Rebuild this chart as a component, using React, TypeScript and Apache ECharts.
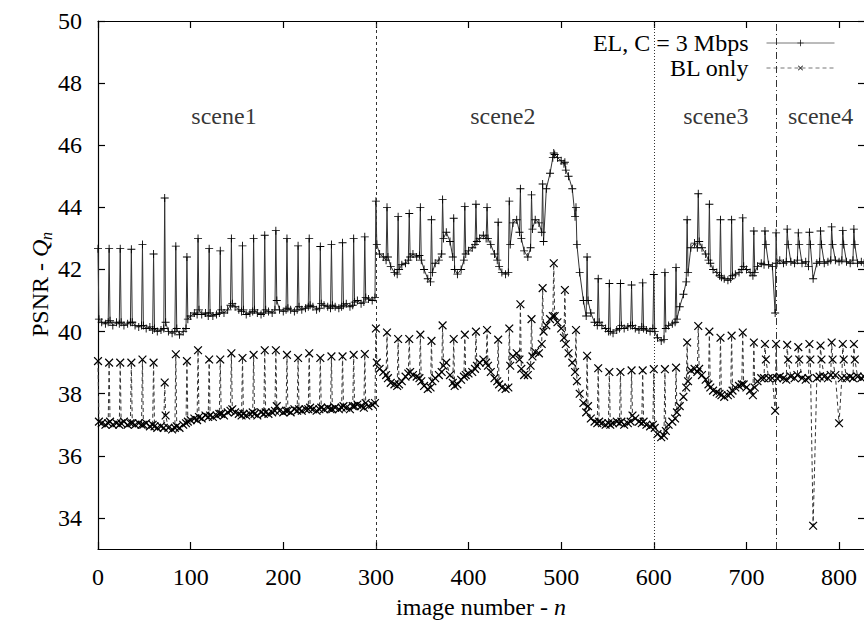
import React, { useEffect, useRef } from "react";
import * as echarts from "echarts";

// ---- data ----
const GOP = 12; // an I-frame (spike) every 12 images
const BASE_OFFSETS = [1, 4, 8, 11]; // frames inside each GOP where the base level is sampled

const xTicks = [0, 100, 200, 300, 400, 500, 600, 700, 800];
const yTicks = [34, 36, 38, 40, 42, 44, 46, 48, 50];

const sceneNames = ["scene1", "scene2", "scene3", "scene4"];
const sceneCenters = [136, 437, 667, 780];
const sceneLabelLevel = 46.93;
const sceneCuts = [300, 600, 732];

// EL, C = 3 Mbps: value at the I-frames 0, 12, 24, ... 816
const elSpikes = [
  42.67, 42.67, 42.67, 42.65, 42.8, 42.5, 44.3, 42.75, 42.4, 43.0,
  42.67, 42.6, 43.0, 42.76, 43.0, 43.1, 43.25, 43.0, 42.76, 43.0,
  42.74, 42.8, 42.86, 43.0, 43.05, 44.2, 44.0, 43.7, 43.8, 44.0,
  43.6, 44.25, 43.65, 44.03, 44.1, 44.0, 43.52, 44.2, 44.6, 44.4,
  44.75, 45.75, 45.45, 44.0, 42.4, 41.7, 41.55, 41.55, 41.5, 41.57,
  41.84, 41.9, 42.06, 43.6, 44.44, 44.1, 43.6, 43.6, 43.66, 43.24,
  43.24, 43.18, 43.3, 43.18, 43.2, 43.24, 43.37, 43.25, 43.3,
];

// EL base level, 4 samples per GOP (frames 12k+1, +4, +8, +11)
const elBase = [
  40.4, 40.3, 40.25, 40.3, 40.35, 40.2, 40.3, 40.25, 40.3, 40.2, 40.25, 40.3,
  40.3, 40.2, 40.15, 40.2, 40.2, 40.1, 40.15, 40.05, 40.1, 40.0, 40.05, 40.1,
  40.3, 40.0, 39.95, 40.0, 40.1, 39.9, 40.0, 40.1, 40.4, 40.5, 40.6, 40.55,
  40.7, 40.55, 40.6, 40.5, 40.6, 40.5, 40.55, 40.6, 40.7, 40.6, 40.7, 40.85,
  40.9, 40.8, 40.7, 40.65, 40.7, 40.55, 40.6, 40.65, 40.7, 40.6, 40.55, 40.6,
  40.7, 40.65, 40.6, 40.7, 41.0, 40.7, 40.65, 40.7, 40.75, 40.7, 40.65, 40.7,
  40.8, 40.7, 40.75, 40.8, 40.85, 40.8, 40.7, 40.75, 40.9, 40.85, 40.8, 40.75,
  40.85, 40.8, 40.75, 40.8, 40.85, 40.9, 40.8, 40.85, 40.95, 41.0, 40.9, 40.95,
  41.1, 41.05, 41.0, 41.1, 42.8, 42.5, 42.4, 42.3, 42.4, 42.1, 41.9, 41.85,
  42.0, 42.15, 42.2, 42.3, 42.4, 42.5, 42.4, 42.45, 42.3, 42.0, 41.7, 41.6,
  41.9, 42.2, 42.3, 42.5, 43.0, 43.2, 42.9, 42.4, 42.0, 41.85, 42.0, 42.3,
  42.5, 42.6, 42.7, 42.8, 42.9, 43.0, 43.1, 43.0, 43.0, 42.8, 42.5, 42.3,
  42.1, 41.9, 41.85, 41.9, 42.8, 43.5, 43.6, 43.2, 43.0, 42.6, 42.4, 42.7,
  43.3, 43.6, 43.5, 43.2, 42.9, 44.6, 45.1, 45.6, 45.7, 45.6, 45.5, 45.4,
  45.2, 45.0, 44.6, 43.7, 42.8, 41.9, 41.0, 40.5, 41.0, 40.6, 40.3, 40.2,
  40.3, 40.2, 40.1, 40.0, 40.0, 39.95, 40.05, 40.1, 40.2, 40.1, 40.15, 40.2,
  40.2, 40.1, 40.05, 40.15, 40.1, 40.05, 40.0, 40.1, 40.0, 39.8, 39.7, 39.75,
  40.1, 40.2, 40.25, 40.3, 40.4, 40.8, 41.2, 41.6, 41.9, 42.7, 42.85, 42.7,
  42.9, 42.7, 42.5, 42.3, 42.2, 42.0, 41.9, 41.8, 41.75, 41.7, 41.65, 41.7,
  41.8, 41.85, 41.9, 42.0, 42.1, 42.0, 41.9, 41.8, 41.9, 42.1, 42.2, 42.15,
  42.8, 42.15, 42.1, 40.6, 42.2, 42.3, 42.2, 42.25, 42.8, 42.25, 42.2, 42.3,
  42.8, 42.2, 42.25, 42.1, 42.8, 41.7, 42.2, 42.25, 42.8, 42.2, 42.25, 42.3,
  42.8, 42.3, 42.25, 42.3, 42.8, 42.25, 42.2, 42.3, 42.8, 42.2, 42.25, 42.2,
];

// BL only: value at the I-frames 0, 12, 24, ... 816
const blSpikes = [
  39.05, 39.0, 39.0, 39.0, 39.1, 39.0, 38.36, 39.27, 39.05, 39.4,
  39.1, 39.1, 39.3, 39.15, 39.25, 39.4, 39.4, 39.25, 39.15, 39.3,
  39.15, 39.2, 39.2, 39.25, 39.28, 40.1, 39.97, 39.76, 39.76, 39.9,
  39.7, 40.2, 39.76, 39.9, 40.0, 40.05, 39.74, 40.1, 40.88, 40.4,
  41.4, 42.2, 41.34, 40.05, 39.22, 38.82, 38.7, 38.7, 38.75, 38.75,
  38.79, 38.79, 38.84, 39.65, 40.18, 40.0, 39.8, 39.87, 39.97, 39.65,
  39.6, 39.6, 39.57, 39.5, 39.6, 39.55, 39.65, 39.6, 39.6,
];

// BL base level, 4 samples per GOP (frames 12k+1, +4, +8, +11)
const blBase = [
  37.1, 37.05, 37.0, 37.05, 37.1, 37.0, 37.05, 37.0, 37.05, 37.1, 37.0, 37.05,
  37.05, 37.0, 37.05, 37.0, 37.0, 37.05, 36.95, 37.0, 36.95, 36.9, 36.95, 36.9,
  37.3, 36.9, 36.85, 36.9, 36.95, 36.9, 37.0, 37.05, 37.1, 37.15, 37.2, 37.15,
  37.25, 37.2, 37.3, 37.25, 37.3, 37.25, 37.3, 37.35, 37.35, 37.3, 37.4, 37.45,
  37.5, 37.4, 37.35, 37.3, 37.35, 37.3, 37.35, 37.4, 37.35, 37.3, 37.4, 37.35,
  37.4, 37.35, 37.4, 37.45, 37.6, 37.45, 37.4, 37.45, 37.45, 37.4, 37.5, 37.45,
  37.5, 37.45, 37.5, 37.5, 37.55, 37.5, 37.45, 37.5, 37.55, 37.5, 37.55, 37.5,
  37.5, 37.55, 37.5, 37.55, 37.6, 37.55, 37.5, 37.6, 37.6, 37.65, 37.6, 37.55,
  37.7, 37.6, 37.65, 37.7, 39.0, 38.8, 38.7, 38.6, 38.5, 38.35, 38.3, 38.25,
  38.3, 38.4, 38.55, 38.65, 38.7, 38.6, 38.55, 38.5, 38.4, 38.25, 38.15, 38.2,
  38.4, 38.5, 38.6, 38.7, 38.9, 39.0, 38.6, 38.35, 38.25, 38.3, 38.45, 38.55,
  38.6, 38.65, 38.7, 38.8, 38.9, 39.0, 39.1, 39.0, 38.9, 38.7, 38.5, 38.4,
  38.3, 38.2, 38.15, 38.2, 38.9, 39.2, 39.3, 39.1, 38.8, 38.6, 38.6, 38.9,
  39.2, 39.35, 39.3, 39.6, 40.0, 40.2, 40.4, 40.5, 40.5, 40.3, 40.1, 39.8,
  39.6, 39.3, 39.0, 38.7, 38.4, 38.0, 37.7, 37.4, 37.6, 37.2, 37.1, 37.05,
  37.1, 37.05, 37.0, 37.05, 37.0, 37.05, 37.1, 37.05, 37.1, 37.0, 37.05, 37.1,
  37.3, 37.2, 37.1, 37.05, 37.1, 37.0, 36.95, 37.0, 36.9, 36.7, 36.6, 36.65,
  36.8, 37.0, 37.1, 37.2, 37.4, 37.6, 37.9, 38.2, 38.4, 38.75, 38.8, 38.7,
  38.8, 38.6, 38.45, 38.3, 38.2, 38.1, 38.05, 38.0, 37.95, 37.9, 37.95, 38.0,
  38.1, 38.2, 38.25, 38.3, 38.3, 38.2, 38.1, 37.95, 38.2, 38.4, 38.5, 38.5,
  39.1, 38.5, 38.5, 37.45, 38.5, 38.55, 38.5, 38.45, 39.1, 38.55, 38.5, 38.6,
  39.1, 38.5, 38.45, 38.5, 39.1, 33.75, 38.5, 38.55, 39.1, 38.55, 38.5, 38.6,
  39.1, 38.6, 37.05, 38.5, 39.1, 38.5, 38.55, 38.5, 39.1, 38.55, 38.5, 38.55,
];

const EL_NAME = "EL, C = 3 Mbps";
const BL_NAME = "BL only";
const X_TITLE = ["image number - ", "n"];
const Y_TITLE = ["PSNR - ", "Q", "n"];

// ---- styling ----
const FONT = "Liberation Serif";
const PLUS = "path://M4,0H5V4H9V5H5V9H4V5H0V4H4Z";

function buildPoints(spikes: number[], base: number[]): number[][] {
  const pts: number[][] = [];
  spikes.forEach((v, k) => {
    pts.push([k * GOP, v]);
    BASE_OFFSETS.forEach((off, j) => {
      const b = base[k * BASE_OFFSETS.length + j];
      if (b !== undefined) pts.push([k * GOP + off, b]);
    });
  });
  return pts;
}

export default function App() {
  const ref = useRef<HTMLDivElement>(null);

  useEffect(() => {
    if (!ref.current) return;
    const chart = echarts.init(ref.current, undefined, { renderer: "svg" });
    const textBase = { fontFamily: FONT, fontSize: 24, color: "#000" };
    const axisLine = { show: true, onZero: false, lineStyle: { color: "#000", width: 1.2 } };
    const tick = (vals: number[]) => ({
      show: true,
      inside: true,
      length: 7,
      customValues: vals,
      lineStyle: { color: "#000", width: 1.2 },
    });
    const gText = (text: string, x: number, y: number, align: string, extra: any = {}) => ({
      type: "text",
      x,
      y,
      silent: true,
      ...extra,
      style: {
        text,
        fontFamily: FONT,
        fontSize: extra.fontSize || 24,
        fontStyle: extra.fontStyle || "normal",
        fill: "#000",
        align,
        verticalAlign: "middle",
      },
    });

    // axis titles: x centred under the plot, y centred beside it
    const xMid = 481;
    const xTitleY = 607;
    const yTitleX = 40;
    const yTitleTop = 240;

    const option: any = {
      animation: false,
      backgroundColor: "#fff",
      textStyle: { fontFamily: FONT },
      grid: { left: 98, right: -1, top: 21, bottom: 80, containLabel: false, outerBoundsMode: "none" },
      legend: {
        data: [EL_NAME, BL_NAME],
        orient: "vertical",
        right: 29,
        top: 31,
        align: "right",
        padding: 0,
        itemWidth: 68,
        itemHeight: 8,
        itemGap: 1,
        selectedMode: false,
        lineStyle: { width: 1, color: "#777" },
        textStyle: { ...textBase, padding: [0, 13, 0, 0] },
      },
      graphic: [
        gText(X_TITLE[0], xMid + 73, xTitleY, "right"),
        gText(X_TITLE[1], xMid + 73, xTitleY, "left", { fontStyle: "italic" }),
        gText(Y_TITLE[0], yTitleX, yTitleTop + 17, "right", { rotation: Math.PI / 2 }),
        gText(Y_TITLE[1], yTitleX, yTitleTop + 17, "left", { rotation: Math.PI / 2, fontStyle: "italic" }),
        gText(Y_TITLE[2], yTitleX + 6, yTitleTop, "left", { rotation: Math.PI / 2, fontStyle: "italic", fontSize: 16 }),
      ],
      xAxis: [
        {
          type: "value",
          min: 0,
          max: 828,
          position: "bottom",
          axisLine,
          axisTick: tick(xTicks),
          axisLabel: { ...textBase, customValues: xTicks, margin: 16 },
          splitLine: { show: false },
        },
        {
          type: "value",
          min: 0,
          max: 828,
          position: "top",
          axisLine,
          axisTick: tick(xTicks),
          axisLabel: { show: false },
          splitLine: { show: false },
        },
      ],
      yAxis: [
        {
          type: "value",
          min: 33,
          max: 50,
          position: "left",
          axisLine,
          axisTick: tick(yTicks),
          axisLabel: { ...textBase, customValues: yTicks, margin: 16 },
          splitLine: { show: false },
        },
        {
          type: "value",
          min: 33,
          max: 50,
          position: "right",
          axisLine,
          axisTick: tick(yTicks),
          axisLabel: { show: false },
          splitLine: { show: false },
        },
      ],
      series: [
        {
          name: BL_NAME,
          type: "line",
          data: buildPoints(blSpikes, blBase),
          symbol: PLUS,
          symbolRotate: 45,
          symbolSize: 11,
          showAllSymbol: true,
          itemStyle: { color: "#000" },
          lineStyle: { color: "#333", width: 1, type: [4, 3] },
          emphasis: { disabled: true },
          silent: true,
          z: 3,
        },
        {
          name: EL_NAME,
          type: "line",
          data: buildPoints(elSpikes, elBase),
          symbol: PLUS,
          symbolSize: 8,
          showAllSymbol: true,
          itemStyle: { color: "#000" },
          lineStyle: { color: "#333", width: 1 },
          emphasis: { disabled: true },
          silent: true,
          z: 4,
          markLine: {
            silent: true,
            symbol: ["none", "none"],
            label: { show: false },
            animation: false,
            data: [
              { xAxis: sceneCuts[0], lineStyle: { color: "#333", width: 1, type: [3, 3] } },
              { xAxis: sceneCuts[1], lineStyle: { color: "#333", width: 1, type: [1, 2] } },
              { xAxis: sceneCuts[2], lineStyle: { color: "#333", width: 1, type: [7, 3, 1, 3] } },
            ],
          },
        },
        {
          name: "scenes",
          type: "scatter",
          symbolSize: 1,
          itemStyle: { color: "rgba(0,0,0,0)" },
          silent: true,
          data: sceneNames.map((n, i) => ({ name: n, value: [sceneCenters[i], sceneLabelLevel] })),
          label: { show: true, position: "inside", formatter: "{b}", ...textBase },
          z: 5,
        },
      ],
    };

    chart.setOption(option);
    return () => chart.dispose();
  }, []);

  return (
    <div
      ref={ref}
      style={{ position: "fixed", left: 0, top: 0, width: 864, height: 629, background: "#fff" }}
    />
  );
}
